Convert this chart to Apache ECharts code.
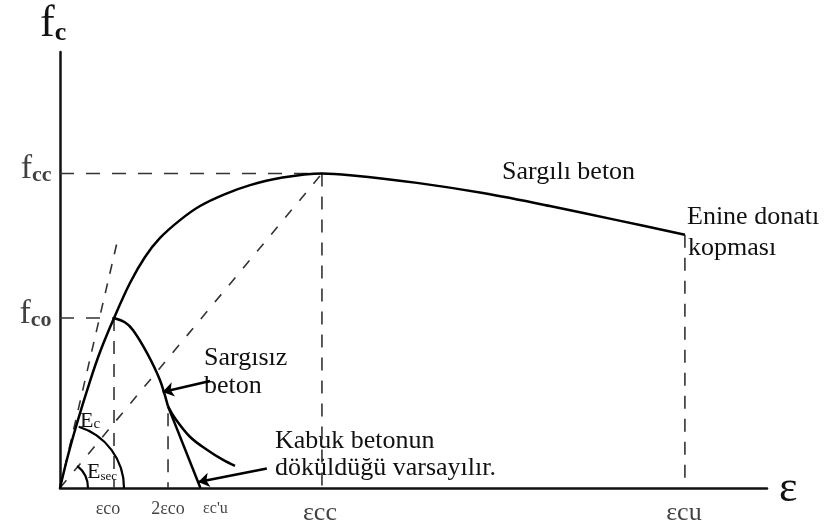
<!DOCTYPE html>
<html>
<head>
<meta charset="utf-8">
<script src="https://cdn.jsdelivr.net/npm/echarts@6/dist/echarts.min.js"></script>
<style>
  html, body { margin: 0; padding: 0; background: #fff; }
  #chart { width: 827px; height: 527px; }
</style>
</head>
<body>
<div id="chart"></div>
<script>
// Strain is expressed in multiples of εco, stress in multiples of fco.

// Key points on the axes
const strainTicks = [1, 2, 2.6, 4.85, 11.57];
const strainTickLabels = ['εco', '2εco', "εc'u", 'εcc', 'εcu'];
const stressTicks = [1, 1.85];
const stressTickLabels = [['f', 'co'], ['f', 'cc']];

// Confined concrete (Sargılı beton)
const confinedStrain = [0, 0.15, 0.315, 0.556, 0.741, 1.0, 1.296, 1.574, 1.852, 2.222, 2.593, 3.056, 3.519, 4.074, 4.85,
                        5.37, 6.61, 7.83, 9.07, 10.31, 11.57];
const confinedStress = [0, 0.194, 0.382, 0.629, 0.8, 1.0, 1.206, 1.359, 1.471, 1.576, 1.659, 1.729, 1.782, 1.824, 1.85,
                        1.84, 1.795, 1.735, 1.659, 1.576, 1.49];

// Unconfined concrete (Sargısız beton), descending branch after the peak
const unconfinedStrain = [1.0, 1.2, 1.35, 1.61, 1.85, 2.0];
const unconfinedStress = [1.0, 0.975, 0.93, 0.795, 0.635, 0.48];

// Unconfined tail beyond 2εco
const tailStrain = [2.0, 2.13, 2.41, 2.72, 3.02, 3.24];
const tailStress = [0.48, 0.41, 0.30, 0.225, 0.165, 0.13];

// Cover spalling: straight line from 2εco down to εc'u
const spallStrain = [2.0, 2.6];
const spallStress = [0.48, 0.0];

// Initial tangent (Ec) end point
const tangentStrain = [0, 1.06];
const tangentStress = [0, 1.45];

// Guide-line levels
const fcc = 1.85, ecc = 4.85, fco = 1.0, eco = 1.0, ecu = 11.57, fcu = 1.49, e2co = 2.0, f2coDash = 0.44;

// Annotation arrows [from, to]
const arrowSargisiz = [[2.78, 0.63], [1.90, 0.565]];
const arrowKabuk = [[3.83, 0.115], [2.56, 0.035]];

const zip = (xs, ys) => xs.map((x, i) => [x, ys[i]]);
const FONT = '"Liberation Serif", "Times New Roman", serif';
const INK = '#111';

const solid = { color: '#000', width: 2.5 };
const dashed = (dash) => ({ color: '#333', width: 1.6, type: dash });

function guide(points, dash) {
  return {
    type: 'line', data: points, showSymbol: false, silent: true,
    lineStyle: dashed(dash), z: 1
  };
}

const xLabelStyle = [
  { size: 18, dx: -6 }, { size: 18, dx: 0 }, { size: 16, dx: 15 }, { size: 26, dx: -2 }, { size: 26, dx: -1 }
];

const chart = echarts.init(document.getElementById('chart'), null, { renderer: 'canvas' });

const option = {
  animation: false,
  backgroundColor: '#fff',
  grid: { left: 60, right: 60, top: 52, bottom: 39 },
  xAxis: {
    type: 'value', min: 0, max: 13.09,
    axisLine: { show: true, onZero: false, lineStyle: { color: '#111', width: 2.5 } },
    axisTick: { show: false }, axisLabel: { show: false }, splitLine: { show: false }
  },
  yAxis: {
    type: 'value', min: 0, max: 2.565,
    axisLine: { show: true, onZero: false, lineStyle: { color: '#111', width: 2.5 } },
    axisTick: { show: false }, axisLabel: { show: false }, splitLine: { show: false }
  },
  series: [
    // dashed guides
    guide([[0, fcc], [ecc, fcc]], [14, 12]),
    guide([[ecc, fcc], [ecc, 0]], [13, 10]),
    guide([[0, fco], [eco, fco]], [14, 12]),
    guide([[eco, fco], [eco, 0]], [13, 10]),
    guide([[e2co, f2coDash], [e2co, 0]], [13, 10]),
    guide([[ecu, fcu], [ecu, 0]], [13, 10]),
    guide(zip(tangentStrain, tangentStress), [10, 10]),
    guide([[0, 0], [ecc, fcc]], [10, 12]),
    // curves
    {
      type: 'line', data: zip(confinedStrain, confinedStress), smooth: 0.35,
      showSymbol: false, lineStyle: solid, z: 3
    },
    {
      type: 'line', data: zip(unconfinedStrain, unconfinedStress), smooth: 0.3,
      showSymbol: false, lineStyle: solid, z: 3
    },
    {
      type: 'line', data: zip(tailStrain, tailStress), smooth: 0.35,
      showSymbol: false, lineStyle: solid, z: 3
    },
    {
      type: 'line', data: zip(spallStrain, spallStress),
      showSymbol: false, lineStyle: solid, z: 3,
      markLine: {
        silent: true, symbol: ['none', 'arrow'], symbolSize: 11, label: { show: false },
        lineStyle: { color: '#000', width: 2.5, type: 'solid' },
        data: [
          [{ coord: arrowSargisiz[0] }, { coord: arrowSargisiz[1] }],
          [{ coord: arrowKabuk[0] }, { coord: arrowKabuk[1] }]
        ]
      }
    },
    // strain tick labels
    {
      type: 'scatter', symbolSize: 1, itemStyle: { color: 'rgba(0,0,0,0)' }, silent: true,
      data: strainTicks.map((x, i) => ({
        value: [x, 0], name: strainTickLabels[i],
        label: {
          show: true, position: 'bottom', distance: 12, offset: [xLabelStyle[i].dx, 0],
          formatter: strainTickLabels[i], fontFamily: FONT, fontSize: xLabelStyle[i].size, color: INK
        }
      }))
    },
    // stress tick labels
    {
      type: 'scatter', symbolSize: 1, itemStyle: { color: 'rgba(0,0,0,0)' }, silent: true,
      data: stressTicks.map((y, i) => ({
        value: [0, y],
        label: {
          show: true, position: 'left', distance: 8, offset: [0, -4],
          formatter: '{f|' + stressTickLabels[i][0] + '}{s|' + stressTickLabels[i][1] + '}',
          rich: {
            f: { fontFamily: FONT, fontSize: 34, color: INK, verticalAlign: 'bottom' },
            s: { fontFamily: FONT, fontSize: 22, fontWeight: 'bold', color: INK, verticalAlign: 'bottom' }
          }
        }
      }))
    }
  ]
};

chart.setOption(option);

// Modulus arcs around the origin and text annotations
const origin = chart.convertToPixel({ gridIndex: 0 }, [0, 0]);
const deg = Math.PI / 180;
const textStyle = (text, size) => ({ text, font: size + 'px ' + FONT, fill: INK });

chart.setOption({
  graphic: [
    {
      type: 'arc', silent: true, z: 10,
      shape: { cx: origin[0], cy: origin[1], r: 64, startAngle: -73 * deg, endAngle: 0, clockwise: true },
      style: { stroke: '#000', lineWidth: 2.2, fill: null }
    },
    {
      type: 'arc', silent: true, z: 10,
      shape: { cx: origin[0], cy: origin[1], r: 28, startAngle: -52 * deg, endAngle: 0, clockwise: true },
      style: { stroke: '#000', lineWidth: 2.2, fill: null }
    },
    {
      type: 'text', left: 40, top: 2, silent: true,
      style: {
        text: '{f|f}{s|c}', font: '40px ' + FONT, fill: INK,
        rich: {
          f: { fontFamily: FONT, fontSize: 44, verticalAlign: 'bottom', fill: INK },
          s: { fontFamily: FONT, fontSize: 26, fontWeight: 'bold', verticalAlign: 'bottom', fill: INK }
        }
      }
    },
    {
      type: 'text', left: 80, top: 410, silent: true,
      style: {
        text: '{e|E}{s|c}', rich: {
          e: { fontFamily: FONT, fontSize: 22, verticalAlign: 'bottom', fill: INK },
          s: { fontFamily: FONT, fontSize: 15, verticalAlign: 'bottom', fill: INK }
        }
      }
    },
    {
      type: 'text', left: 87, top: 461, silent: true,
      style: {
        text: '{e|E}{s|sec}', rich: {
          e: { fontFamily: FONT, fontSize: 22, verticalAlign: 'bottom', fill: INK },
          s: { fontFamily: FONT, fontSize: 13, verticalAlign: 'bottom', fill: INK }
        }
      }
    },
    { type: 'text', left: 779, top: 467, silent: true, style: textStyle('ε', 44) },
    { type: 'text', left: 502, top: 159, silent: true, style: textStyle('Sargılı beton', 26) },
    { type: 'text', left: 687, top: 204, silent: true, style: textStyle('Enine donatı', 26) },
    { type: 'text', left: 688, top: 235, silent: true, style: textStyle('kopması', 26) },
    { type: 'text', left: 204, top: 345, silent: true, style: textStyle('Sargısız', 26) },
    { type: 'text', left: 204, top: 373, silent: true, style: textStyle('beton', 26) },
    { type: 'text', left: 275, top: 428, silent: true, style: textStyle('Kabuk betonun', 26) },
    { type: 'text', left: 275, top: 455, silent: true, style: textStyle('döküldüğü varsayılır.', 26) }
  ]
});
</script>
</body>
</html>
